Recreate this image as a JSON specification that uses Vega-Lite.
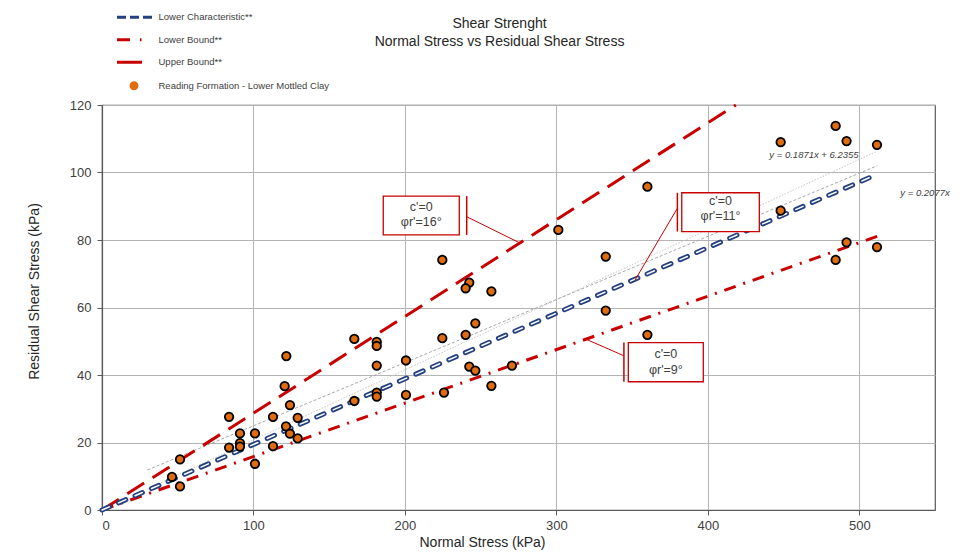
{
  "$schema": "https://vega.github.io/schema/vega-lite/v6.json",
  "width": 833,
  "height": 405,
  "autosize": {"type": "none"},
  "padding": {"left": 102, "top": 105, "right": 36, "bottom": 45},
  "background": "white",
  "config": {
    "font": "Liberation Sans",
    "view": {"stroke": "#595959", "strokeWidth": 1.2},
    "axis": {
      "labelFont": "Liberation Sans",
      "labelFontSize": 13,
      "labelColor": "#404040",
      "titleFont": "Liberation Sans",
      "titleFontSize": 14,
      "titleFontWeight": "normal",
      "titleColor": "#262626",
      "gridColor": "#b4b4b4",
      "gridWidth": 1,
      "domainColor": "#595959",
      "domainWidth": 1.2,
      "tickColor": "#595959",
      "tickSize": 5,
      "tickWidth": 1
    }
  },
  "title": {
    "text": ["Shear Strenght", "Normal Stress vs Residual Shear Stress"],
    "font": "Liberation Sans",
    "fontSize": 14,
    "fontWeight": "normal",
    "color": "#262626",
    "anchor": "middle",
    "frame": "group",
    "baseline": "bottom",
    "dx": -19,
    "dy": 50.5,
    "offset": 0,
    "lineHeight": 18
  },
  "datasets": {
    "points": [
      {"normal": 121.7, "shear": 45.6}, {"normal": 120.6, "shear": 36.7}, {"normal": 124.1, "shear": 31.1},
      {"normal": 83.9, "shear": 27.6}, {"normal": 112.9, "shear": 27.6}, {"normal": 129.2, "shear": 27.3},
      {"normal": 121.5, "shear": 24.8}, {"normal": 91.1, "shear": 22.7}, {"normal": 101.0, "shear": 22.7},
      {"normal": 124.1, "shear": 22.6}, {"normal": 129.2, "shear": 21.2}, {"normal": 91.1, "shear": 19.8},
      {"normal": 83.9, "shear": 18.5}, {"normal": 91.1, "shear": 18.8}, {"normal": 112.9, "shear": 18.9},
      {"normal": 51.5, "shear": 15.0}, {"normal": 101.0, "shear": 13.7}, {"normal": 46.2, "shear": 9.8},
      {"normal": 51.5, "shear": 7.0},
      {"normal": 224.7, "shear": 74.1}, {"normal": 242.5, "shear": 67.4}, {"normal": 240.1, "shear": 65.7},
      {"normal": 257.1, "shear": 64.8}, {"normal": 246.5, "shear": 55.3}, {"normal": 166.6, "shear": 50.7},
      {"normal": 224.7, "shear": 50.9}, {"normal": 240.1, "shear": 51.9}, {"normal": 181.4, "shear": 49.8},
      {"normal": 181.4, "shear": 48.6}, {"normal": 181.4, "shear": 42.8}, {"normal": 200.7, "shear": 44.3},
      {"normal": 242.5, "shear": 42.5}, {"normal": 246.5, "shear": 41.3}, {"normal": 270.7, "shear": 42.8},
      {"normal": 257.1, "shear": 36.8}, {"normal": 181.4, "shear": 34.8}, {"normal": 181.4, "shear": 33.6},
      {"normal": 200.7, "shear": 34.1}, {"normal": 225.8, "shear": 34.8}, {"normal": 166.6, "shear": 32.3},
      {"normal": 360.1, "shear": 95.8}, {"normal": 301.3, "shear": 83.0}, {"normal": 332.6, "shear": 75.1},
      {"normal": 332.6, "shear": 59.1}, {"normal": 360.1, "shear": 51.9},
      {"normal": 484.4, "shear": 113.8}, {"normal": 448.1, "shear": 109.0}, {"normal": 491.6, "shear": 109.3},
      {"normal": 511.7, "shear": 108.2}, {"normal": 448.1, "shear": 88.7}, {"normal": 491.6, "shear": 79.3},
      {"normal": 511.7, "shear": 77.9}, {"normal": 484.4, "shear": 74.1}
    ],
    "bounds": [
      {"series": "Upper Bound**", "normal": 0, "shear": 0},
      {"series": "Upper Bound**", "normal": 418.5, "shear": 120},
      {"series": "Lower Characteristic**", "normal": 0, "shear": 0},
      {"series": "Lower Characteristic**", "normal": 512, "shear": 99.5},
      {"series": "Lower Bound**", "normal": 0, "shear": 0},
      {"series": "Lower Bound**", "normal": 512, "shear": 81.1}
    ],
    "trends": [
      {"trend": "fit", "normal": 30, "shear": 11.85},
      {"trend": "fit", "normal": 512, "shear": 102.03},
      {"trend": "origin", "normal": 30, "shear": 6.23},
      {"trend": "origin", "normal": 512, "shear": 106.34}
    ],
    "equations": [
      {"label": "y = 0.1871x + 6.2355", "normal": 470.1, "shear": 105.2},
      {"label": "y = 0.2077x", "normal": 543.4, "shear": 93.8}
    ],
    "boxes": [
      {"label": "c'=0\nφr'=16°", "x1": 185.7, "x2": 235.9, "y1": 81.5, "y2": 93.0, "tx": 210.8, "ty": 89.8, "bx": 240.8, "lx1": 240.8, "ly1": 86.9, "lx2": 276.0, "ly2": 79.1},
      {"label": "c'=0\nφr'=11°", "x1": 382.8, "x2": 434.0, "y1": 82.5, "y2": 94.0, "tx": 408.4, "ty": 91.6, "bx": 379.9, "lx1": 379.9, "ly1": 89.4, "lx2": 351.9, "ly2": 68.1},
      {"label": "c'=0\nφr'=9°", "x1": 347.5, "x2": 397.0, "y1": 38.0, "y2": 49.6, "tx": 372.3, "ty": 46.2, "bx": 344.6, "lx1": 344.6, "ly1": 45.7, "lx2": 319.6, "ly2": 50.6}
    ]
  },
  "layer": [
    {
      "data": {"name": "trends"},
      "transform": [{"filter": "datum.trend === 'origin'"}],
      "mark": {"type": "line", "color": "#c8c8c8", "strokeWidth": 1, "strokeDash": [1.5, 1.5]},
      "encoding": {
        "x": {"field": "normal", "type": "quantitative", "scale": {"domain": [0, 550], "nice": false}, "axis": {"values": [0, 100, 200, 300, 400, 500], "title": "Normal Stress (kPa)", "labelPadding": 4, "titlePadding": 3, "titleX": 380}},
        "y": {"field": "shear", "type": "quantitative", "scale": {"domain": [0, 120], "nice": false}, "axis": {"values": [0, 20, 40, 60, 80, 100, 120], "title": "Residual Shear Stress (kPa)", "labelPadding": 6, "titlePadding": 28, "titleY": 186}}
      }
    },
    {
      "data": {"name": "trends"},
      "transform": [{"filter": "datum.trend === 'fit'"}],
      "mark": {"type": "line", "color": "#a8a8a8", "strokeWidth": 1, "strokeDash": [3, 2]},
      "encoding": {
        "x": {"field": "normal", "type": "quantitative"},
        "y": {"field": "shear", "type": "quantitative"}
      }
    },
    {
      "data": {"name": "bounds"},
      "transform": [{"filter": "datum.series === 'Upper Bound**'"}],
      "mark": {"type": "line", "strokeWidth": 3, "strokeDash": [20, 10]},
      "encoding": {
        "x": {"field": "normal", "type": "quantitative"},
        "y": {"field": "shear", "type": "quantitative"},
        "color": {
          "field": "series",
          "type": "nominal",
          "scale": {
            "domain": ["Lower Characteristic**", "Lower Bound**", "Upper Bound**", "Reading Formation - Lower Mottled Clay"],
            "range": ["#24407e", "#c80000", "#c80000", "#df6c0e"]
          },
          "legend": {
            "title": null,
            "orient": "none",
            "legendX": 15,
            "legendY": -92.5,
            "padding": 0,
            "symbolSize": 529,
            "symbolType": "stroke",
            "symbolStrokeColor": {"expr": "datum.value === 'Reading Formation - Lower Mottled Clay' ? '#000000' : (datum.value === 'Lower Characteristic**' ? '#24407e' : '#c80000')"},
            "rowPadding": 9.5,
            "labelOffset": 32,
            "labelFont": "Liberation Sans",
            "labelFontSize": 9.5,
            "labelColor": "#404040",
            "labelLimit": 400,
            "encode": {
              "symbols": {
                "update": {
                  "shape": {"signal": "datum.value === 'Reading Formation - Lower Mottled Clay' ? 'circle' : 'stroke'"},
                  "size": {"signal": "datum.value === 'Reading Formation - Lower Mottled Clay' ? 50 : (datum.value === 'Lower Characteristic**' ? 1225 : 625)"},
                  "x": {"signal": "datum.value === 'Reading Formation - Lower Mottled Clay' ? 17 : (datum.value === 'Lower Characteristic**' ? 17.5 : 12.5)"},
                  "fill": {"signal": "datum.value === 'Reading Formation - Lower Mottled Clay' ? '#df6c0e' : 'transparent'"},
                  "stroke": {"signal": "datum.value === 'Reading Formation - Lower Mottled Clay' ? '#000000' : (datum.value === 'Lower Characteristic**' ? '#24407e' : '#c80000')"},
                  "strokeWidth": {"signal": "datum.value === 'Reading Formation - Lower Mottled Clay' ? 1.8 : 3"},
                  "strokeDash": {"signal": "datum.value === 'Lower Characteristic**' ? [9, 4] : (datum.value === 'Lower Bound**' ? [13, 10, 1.5, 10] : [200, 1])"},
                  "opacity": {"value": 1},
                  "strokeOpacity": {"value": 1},
                  "fillOpacity": {"value": 1}
                }
              }
            }
          }
        }
      }
    },
    {
      "data": {"name": "bounds"},
      "transform": [{"filter": "datum.series === 'Lower Bound**'"}],
      "mark": {"type": "line", "strokeWidth": 3, "strokeDash": [12, 8, 2, 8]},
      "encoding": {
        "x": {"field": "normal", "type": "quantitative"},
        "y": {"field": "shear", "type": "quantitative"},
        "color": {"field": "series", "type": "nominal"}
      }
    },
    {
      "data": {"name": "bounds"},
      "transform": [{"filter": "datum.series === 'Lower Characteristic**'"}],
      "mark": {"type": "line", "strokeWidth": 5, "strokeDash": [8, 10], "strokeCap": "round"},
      "encoding": {
        "x": {"field": "normal", "type": "quantitative"},
        "y": {"field": "shear", "type": "quantitative"},
        "color": {"field": "series", "type": "nominal"}
      }
    },
    {
      "data": {"name": "bounds"},
      "transform": [{"filter": "datum.series === 'Lower Characteristic**'"}],
      "mark": {"type": "line", "strokeWidth": 1.5, "strokeDash": [8, 10], "strokeCap": "round", "color": "#ffffff"},
      "encoding": {
        "x": {"field": "normal", "type": "quantitative"},
        "y": {"field": "shear", "type": "quantitative"}
      }
    },
    {
      "data": {"name": "points"},
      "mark": {"type": "circle", "size": 72, "opacity": 1, "stroke": "#000000", "strokeWidth": 1.8},
      "encoding": {
        "x": {"field": "normal", "type": "quantitative"},
        "y": {"field": "shear", "type": "quantitative"},
        "color": {"datum": "Reading Formation - Lower Mottled Clay", "type": "nominal"}
      }
    },
    {
      "data": {"name": "boxes"},
      "mark": {"type": "rule", "color": "#c80000", "strokeWidth": 1},
      "encoding": {
        "x": {"field": "lx1", "type": "quantitative"},
        "y": {"field": "ly1", "type": "quantitative"},
        "x2": {"field": "lx2"},
        "y2": {"field": "ly2"}
      }
    },
    {
      "data": {"name": "boxes"},
      "mark": {"type": "rule", "color": "#c80000", "strokeWidth": 1.5},
      "encoding": {
        "x": {"field": "bx", "type": "quantitative"},
        "y": {"field": "y1", "type": "quantitative"},
        "y2": {"field": "y2"}
      }
    },
    {
      "data": {"name": "boxes"},
      "mark": {"type": "rect", "fill": "#ffffff", "stroke": "#c80000", "strokeWidth": 1.3},
      "encoding": {
        "x": {"field": "x1", "type": "quantitative"},
        "x2": {"field": "x2"},
        "y": {"field": "y1", "type": "quantitative"},
        "y2": {"field": "y2"}
      }
    },
    {
      "data": {"name": "boxes"},
      "mark": {"type": "text", "font": "Liberation Sans", "fontSize": 12.5, "color": "#404040", "lineBreak": "\n", "lineHeight": 15.5, "baseline": "middle", "align": "center"},
      "encoding": {
        "x": {"field": "tx", "type": "quantitative"},
        "y": {"field": "ty", "type": "quantitative"},
        "text": {"field": "label"}
      }
    },
    {
      "data": {"name": "equations"},
      "mark": {"type": "text", "font": "Liberation Sans", "fontSize": 9.5, "fontStyle": "italic", "color": "#404040", "baseline": "middle", "align": "center"},
      "encoding": {
        "x": {"field": "normal", "type": "quantitative"},
        "y": {"field": "shear", "type": "quantitative"},
        "text": {"field": "label"}
      }
    }
  ]
}
